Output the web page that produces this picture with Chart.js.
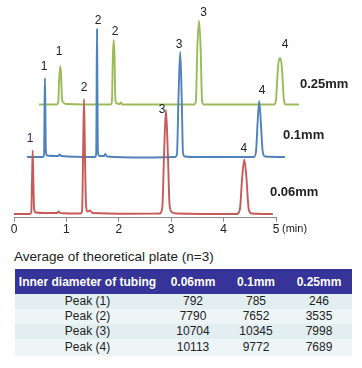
<!DOCTYPE html>
<html>
<head>
<meta charset="utf-8">
<script src="https://cdn.jsdelivr.net/npm/chart.js@4.4.1/dist/chart.umd.min.js"></script>
<style>
  body { margin: 0; background: #fff; font-family: "Liberation Sans", Arial, sans-serif; }
  #wrap { position: absolute; left: 0; top: 0; width: 362px; height: 240px; }
  #title { position: absolute; left: 14px; top: 248px; font-size: 13.5px; line-height: 18px; color: #222; }
  #tbl { position: absolute; left: 15px; top: 269px; width: 337px; border-collapse: collapse; table-layout: fixed; font-size: 12px; color: #222; }
  #tbl th { background: #363399; color: #fff; font-weight: bold; height: 25px; padding: 0; text-align: center; }
  #tbl td { height: 15px; padding: 0; text-align: center; line-height: 15px; }
  #tbl tr.a td { background: #e3eef0; }
  #tbl tr.b td { background: #eef5f7; }
  #tbl tr.last td { height: 17px; }
</style>
</head>
<body>
<div id="wrap"><canvas id="myChart" width="362" height="240"></canvas></div>
<div id="title">Average of theoretical plate (n=3)</div>
<table id="tbl">
  <colgroup><col style="width:145px"><col style="width:66px"><col style="width:60px"><col style="width:66px"></colgroup>
  <thead><tr id="head"></tr></thead>
  <tbody id="body"></tbody>
</table>
<script>
// chromatograms: [time (min), signal]
var red06 = [[0,3.5],[0.30,3.5],[0.33,5],[0.345,40],[0.357,66.5],[0.37,35],[0.385,8],[0.42,5],[0.6,4.5],[0.82,4.5],[0.85,6],[0.88,4.5],
  [1.27,4],[1.30,7],[1.318,60],[1.336,117.5],[1.355,60],[1.375,12],[1.40,6],[1.45,7],[1.5,4.5],[2.2,3.8],
  [2.78,4],[2.83,10],[2.865,65],[2.9,106.5],[2.935,65],[2.97,12],[3.02,5],[3.1,4],
  [4.25,3.5],[4.31,8],[4.355,40],[4.395,57.5],[4.435,40],[4.48,8],[4.54,4],[4.94,3.5]];
var blue01 = [[0.25,60],[0.55,60],[0.575,63],[0.583,110],[0.59,138],[0.598,110],[0.607,66],[0.63,61.5],[0.85,61],[0.87,62.5],[0.9,61],
  [1.55,60],[1.57,64],[1.577,130],[1.584,186.5],[1.592,130],[1.60,66],[1.63,61],[1.72,61],[1.74,63],[1.77,60.5],[2.5,59.5],
  [3.08,60],[3.11,63],[3.14,120],[3.172,164],[3.2,120],[3.225,64],[3.26,60.5],[3.5,60],
  [4.58,60],[4.62,66],[4.65,95],[4.68,115.5],[4.71,95],[4.745,66],[4.79,60.5],[5.17,60]];
var green25 = [[0.477,112],[0.82,112],[0.845,115],[0.865,140],[0.884,150],[0.9,140],[0.915,118],[0.94,114],[0.99,112.5],
  [1.85,112],[1.87,116],[1.887,160],[1.903,175.5],[1.918,160],[1.935,117],[1.96,113],[2.02,112.5],[2.04,114],[2.07,112],
  [3.44,112],[3.47,115],[3.5,170],[3.53,195],[3.56,170],[3.59,115],[3.62,112],
  [4.97,112],[5.0,117],[5.04,150],[5.076,158],[5.11,150],[5.15,117],[5.18,112],[5.44,112]];

// peak numbers: [time, signal, text]
var peakLabels = [
  [0.305,78.5,'1'],[1.336,128.5,'2'],[2.824,106.5,'3'],[4.384,68.5,'4'],
  [0.573,149.5,'1'],[1.603,194.5,'2'],[3.149,171.5,'3'],[4.733,125.5,'4'],
  [0.859,164.5,'1'],[1.927,184.5,'2'],[3.62,202.8,'3'],[5.172,171.5,'4']
];
var peakLabelColors = ['#4a1a40','#222','#222','#222','#222','#222','#222','#222','#222','#222','#222','#222'];
// trace names: [time, signal, text]
var traceNames = [[5.458,131.5,'0.25mm'],[5.134,81.5,'0.1mm'],[4.885,24.5,'0.06mm']];
var xTicks = [0,1,2,3,4,5];

// table
var tableHead = ['Inner diameter of tubing','0.06mm','0.1mm','0.25mm'];
var tablePeaks = ['Peak (1)','Peak (2)','Peak (3)','Peak (4)'];
var plate006 = [792,7790,10704,10113];
var plate01 = [785,7652,10345,9772];
var plate025 = [246,3535,7998,7689];

var head = document.getElementById('head');
tableHead.forEach(function(h){ var th = document.createElement('th'); th.textContent = h; head.appendChild(th); });
var body = document.getElementById('body');
tablePeaks.forEach(function(p, i){
  var tr = document.createElement('tr');
  tr.className = (i % 2 == 0 ? 'a' : 'b') + (i == tablePeaks.length - 1 ? ' last' : '');
  [p, plate006[i], plate01[i], plate025[i]].forEach(function(v){
    var td = document.createElement('td'); td.textContent = v; tr.appendChild(td);
  });
  body.appendChild(tr);
});

function pts(arr) { return arr.map(function(p){ return {x: p[0], y: p[1]}; }); }

var textPlugin = {
  id: 'texts',
  afterDraw: function(chart) {
    var ctx = chart.ctx, xs = chart.scales.x, ys = chart.scales.y;
    ctx.save();
    ctx.textBaseline = 'middle';
    ctx.textAlign = 'center';
    ctx.font = '12px "Liberation Sans", Arial, sans-serif';
    peakLabels.forEach(function(l, i){
      ctx.fillStyle = peakLabelColors[i];
      ctx.fillText(l[2], xs.getPixelForValue(l[0]), ys.getPixelForValue(l[1]));
    });
    ctx.textAlign = 'left';
    ctx.fillStyle = '#222';
    ctx.font = 'bold 13px "Liberation Sans", Arial, sans-serif';
    traceNames.forEach(function(l){
      ctx.fillText(l[2], xs.getPixelForValue(l[0]), ys.getPixelForValue(l[1]));
    });
    ctx.font = '11px "Liberation Sans", Arial, sans-serif';
    ctx.fillText('(min)', xs.getPixelForValue(5) + 6, xs.top + 11.5);
    ctx.restore();
  }
};

var ctx = document.getElementById('myChart');
var myChart = new Chart(ctx, {
  type: 'line',
  data: {
    datasets: [
      { label: '0.06mm', data: pts(red06), borderColor: 'rgba(196,80,80,0.95)' },
      { label: '0.1mm', data: pts(blue01), borderColor: '#4f81bd' },
      { label: '0.25mm', data: pts(green25), borderColor: '#9bbb59' }
    ]
  },
  options: {
    responsive: false,
    animation: false,
    clip: false,
    layout: { padding: { left: 14, right: 86, top: 8, bottom: 2 } },
    elements: {
      point: { radius: 0 },
      line: { borderWidth: 1.9, cubicInterpolationMode: 'monotone', fill: false }
    },
    plugins: { legend: { display: false }, tooltip: { enabled: false } },
    scales: {
      x: {
        type: 'linear',
        afterDataLimits: function(s){ s.min = xTicks[0]; s.max = xTicks[xTicks.length - 1]; },
        afterBuildTicks: function(s){ s.ticks = xTicks.map(function(v){ return {value: v}; }); },
        grid: { drawOnChartArea: false, drawTicks: true, tickLength: 4, color: '#888' },
        border: { display: true, color: '#888', width: 1 },
        ticks: { color: '#222', padding: 1, maxRotation: 0, font: { size: 12, family: '"Liberation Sans", Arial, sans-serif' } }
      },
      y: { display: false, min: 0, max: 207.5 }
    }
  },
  plugins: [textPlugin]
});
</script>
</body>
</html>
